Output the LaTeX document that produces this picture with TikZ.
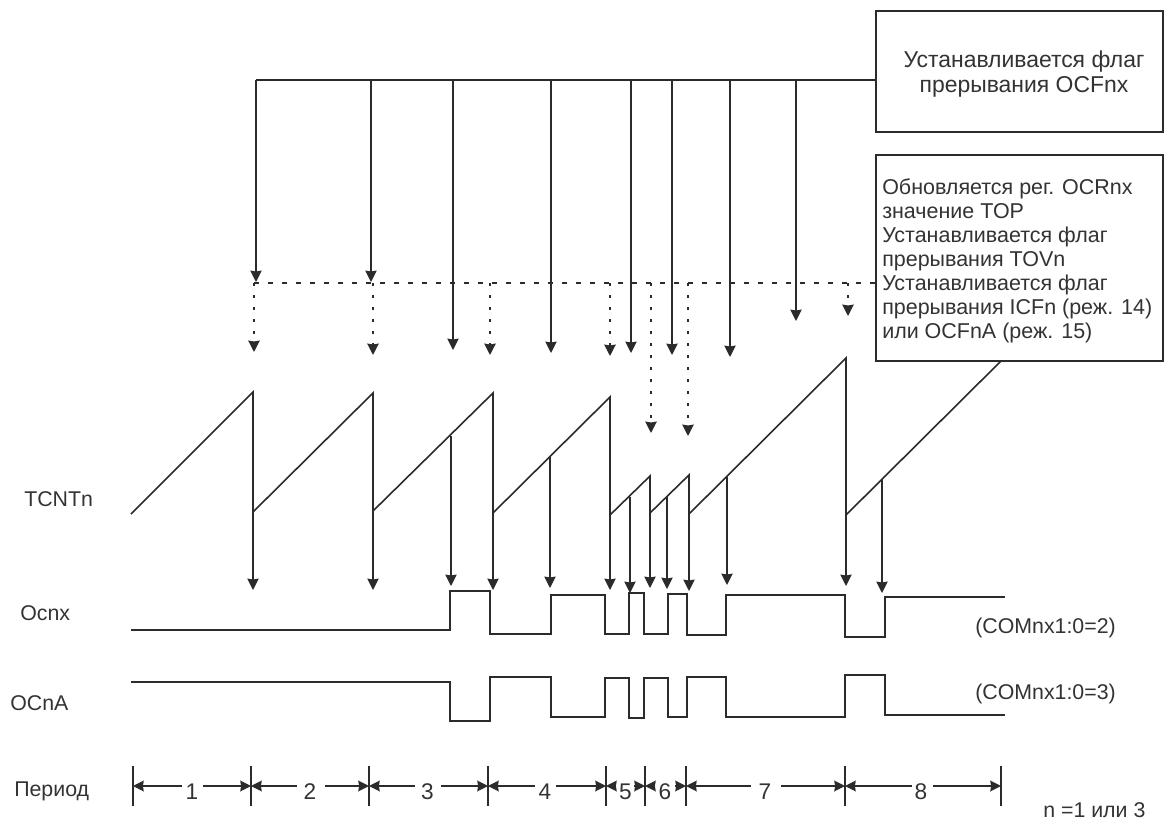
\documentclass[tikz,border=0pt]{standalone}
\usepackage{fontspec}
\setmainfont{Liberation Sans}
\usetikzlibrary{arrows.meta}
\definecolor{ink}{HTML}{2B2B2B}
\definecolor{txt}{HTML}{333333}
\tikzset{
  wire/.style={draw=ink,line width=1.2pt,line join=miter},
  solidarrow/.style={draw=ink,line width=1.2pt,-{Stealth[length=8.5pt,width=8.5pt,inset=0.6pt]}},
  dotarrow/.style={draw=ink,line width=1.4pt,dash pattern=on 2.4pt off 6.6pt,-{Stealth[length=8.5pt,width=8.5pt,inset=0.6pt]}},
  dashline/.style={draw=ink,line width=1.2pt,dash pattern=on 3.8pt off 6.7pt},
  label/.style={text=txt,font=\fontsize{16pt}{19pt}\selectfont,inner sep=0pt,anchor=base west},
  num/.style={text=txt,font=\fontsize{17pt}{19pt}\selectfont,inner sep=0pt,anchor=base},
  infobox/.style={draw=ink,line width=1.2pt,fill=white,inner sep=0pt},
  spanarrow/.style={draw=ink,line width=1.2pt,-{Stealth[length=8pt,width=8pt,inset=0.6pt]}},
}
\begin{document}
\begin{tikzpicture}[x=0.75pt,y=-0.75pt]
\useasboundingbox (0,0) rectangle (1165,822);
% saw wave
\draw[wire] (131,514) -- (253,392) -- (253,512) -- (373,393) -- (373,511) -- (493,393) -- (493,513)
  -- (610,397) -- (610,515) -- (650,476) -- (650,513) -- (689,475) -- (689,514) -- (846,358) -- (846,515) -- (1002,360);
% boxes
\node[infobox,minimum width=287*0.75pt,minimum height=121*0.75pt,anchor=north west] (box1) at (875,10) {};
\node[text=txt,inner sep=0pt,anchor=center,align=center,font=\fontsize{17.2pt}{18.8pt}\selectfont] (box1text) at (1024,74) {Устанавливается флаг\\прерывания OCFnx};
\node[infobox,minimum width=287*0.75pt,minimum height=206*0.75pt,anchor=north west] (box2) at (875,154) {};
\node[text=txt,inner sep=0pt,anchor=north west,align=left,font=\fontsize{16.1pt}{18.1pt}\selectfont] (box2text) at (882,178)
 {Обновляется рег. OCRnx\\значение TOP\\Устанавливается флаг\\прерывания TOVn\\Устанавливается флаг\\прерывания ICFn (реж. 14)\\или OCFnA (реж. 15)};
% flag bus and arrows
\foreach \n/\x/\y in {1/256/282,2/371/282,3/453/350,4/551/353,5/631/353,6/672/355,7/730/357,8/796/321}{
  \coordinate (bus\n) at (\x,80);
  \coordinate (flag\n) at (\x,\y);
  \draw[solidarrow] (bus\n) -- (flag\n);
}
\draw[wire] (box1.west |- bus1) -- (bus1);
% dashed line and dotted arrows
\coordinate (dashstart) at (254,283);
\draw[dashline] (box2.west |- dashstart) -- (dashstart);
\foreach \n/\x/\y in {1/254/352,2/373/355,3/490/355,4/610/356,5/651/433,6/688/436,7/848/316}{
  \coordinate (dot\n) at (\x,283);
  \coordinate (dotend\n) at (\x,\y);
  \draw[dotarrow] (dot\n) -- (dotend\n);
}
% arrows from counter to outputs
\foreach \n/\x/\a/\b in {1/253/512/590,2/373/511/590,3/451/436/586,4/493/513/590,5/550/457/588,6/610/515/590,7/630/497/593,8/650/513/588,9/667/497/589,10/689/514/591,11/727/477/585,12/846/515/586,13/882/479/593}{
  \coordinate (ca\n) at (\x,\a);
  \coordinate (cb\n) at (\x,\b);
  \draw[solidarrow] (ca\n) -- (cb\n);
}
% Ocnx
\draw[wire] (131,630) -- (450,630) -- (450,591) -- (490,591) -- (490,634) -- (551,634) -- (551,595)
  -- (605,595) -- (605,634) -- (629,634) -- (629,593) -- (644,593) -- (644,634) -- (668,634) -- (668,594)
  -- (687,594) -- (687,635) -- (726,635) -- (726,595) -- (845,595) -- (845,637) -- (885,637) -- (885,597) -- (1005,597);
% OCnA
\draw[wire] (131,682) -- (450,682) -- (450,721) -- (490,721) -- (490,677) -- (551,677) -- (551,717)
  -- (605,717) -- (605,678) -- (629,678) -- (629,718) -- (644,718) -- (644,678) -- (668,678) -- (668,717)
  -- (687,717) -- (687,677) -- (726,677) -- (726,717) -- (845,717) -- (845,675) -- (885,675) -- (885,715) -- (1005,715);
% period dividers
\foreach \n/\x in {0/133,1/251,2/369,3/488,4/606,5/645,6/686,7/845,8/1001}{
  \coordinate (dt\n) at (\x,766);
  \coordinate (db\n) at (\x,806);
  \coordinate (dm\n) at (\x,786);
  \draw[wire] (dt\n) -- (db\n);
}
% period arrows and numbers
\foreach \p/\n/\lx/\rx/\cx in {0/1/182/203/192,1/2/297/324.5/310,2/3/414.5/441/427.5,3/4/535/556/545,4/5/616/634/625.5,5/6/655/675/665,6/7/751/781/765,7/8/911.5/932.5/921}{
  \pgfmathtruncatemacro{\q}{\p+1}
  \coordinate (la\n) at (\lx,786);
  \coordinate (ra\n) at (\rx,786);
  \draw[spanarrow] (la\n) -- (dm\p);
  \draw[spanarrow] (ra\n) -- (dm\q);
  \node[num] (pn\n) at (\cx,799) {\n};
}
% labels
\node[label] (tcnt) at (24,506) {TCNTn};
\node[label] (ocnx) at (20,620) {Ocnx};
\node[label] (ocna) at (10,710) {OCnA};
\node[label] (period) at (14,796) {Период};
\node[label] (com2) at (975,633) {(COMnx1:0=2)};
\node[label] (com3) at (975,699) {(COMnx1:0=3)};
\node[label] (nval) at (1043,817) {n =1 или 3};
\end{tikzpicture}
\end{document}
